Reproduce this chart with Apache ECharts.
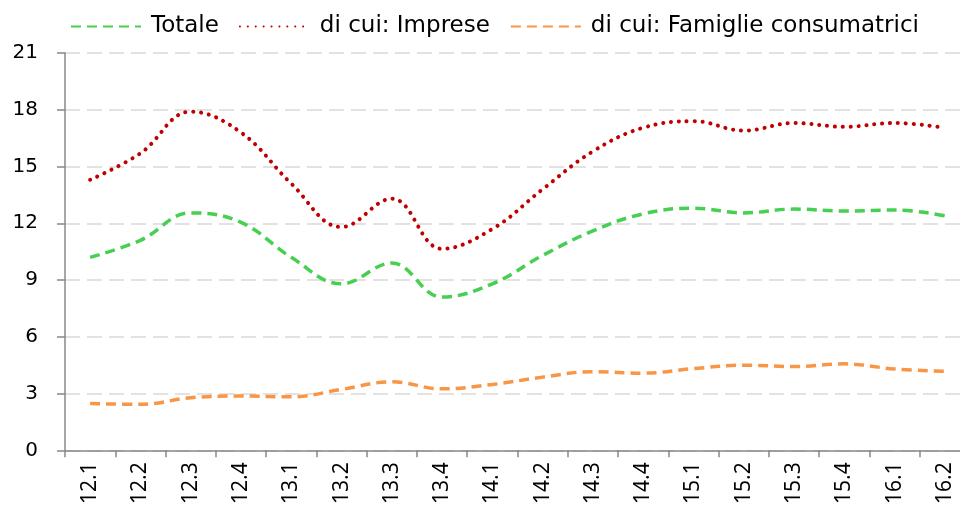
<!DOCTYPE html>
<html>
<head>
<meta charset="utf-8">
<script src="https://cdn.jsdelivr.net/npm/echarts@6/dist/echarts.min.js"></script>
<style>
  html, body { margin: 0; padding: 0; background: #fff; overflow: hidden; }
  #chart { width: 975px; height: 507px; }
</style>
</head>
<body>
<div id="chart"></div>
<script>
// trimestri (anno.trimestre)
var categories = ['12.1', '12.2', '12.3', '12.4', '13.1', '13.2', '13.3', '13.4', '14.1',
  '14.2', '14.3', '14.4', '15.1', '15.2', '15.3', '15.4', '16.1', '16.2']
var totale = [10.2, 11.1, 12.55, 12.05, 10.2, 8.8, 9.9, 8.1, 8.8,
  10.3, 11.6, 12.5, 12.8, 12.55, 12.75, 12.65, 12.7, 12.4]
var imprese = [14.3, 15.7, 17.9, 16.8, 14.1, 11.8, 13.3, 10.65, 11.7,
  13.8, 15.8, 17.05, 17.4, 16.9, 17.3, 17.1, 17.3, 17.05]
var famiglie = [2.47, 2.43, 2.78, 2.87, 2.83, 3.22, 3.62, 3.25, 3.48,
  3.87, 4.16, 4.08, 4.32, 4.5, 4.43, 4.57, 4.3, 4.18]
var yTicks = [0, 3, 6, 9, 12, 15, 18, 21]

var myChart = echarts.init(document.getElementById('chart'))
var font = 'DejaVu Sans, Verdana, sans-serif'

function serie(name, data, color, width, dash, cap) {
  return {
    name: name,
    type: 'line',
    data: data,
    smooth: 0.4,
    showSymbol: false,
    symbol: 'none',
    lineStyle: { color: color, width: width, type: dash, cap: cap },
    itemStyle: { color: color }
  }
}

var option = {
  animation: false,
  legend: {
    left: 65,
    top: 10,
    itemWidth: 70,
    itemHeight: 14,
    itemGap: 20,
    itemStyle: { opacity: 0 },
    textStyle: { fontFamily: font, fontSize: 23, color: '#000', padding: [0, 0, 0, 5] },
    data: ['Totale', 'di cui: Imprese', 'di cui: Famiglie consumatrici']
  },
  grid: { left: 65, right: 5, top: 53, bottom: 54 },
  xAxis: {
    type: 'category',
    data: categories,
    boundaryGap: true,
    axisLine: { lineStyle: { color: '#888', width: 1.5 } },
    axisTick: { show: true, length: 7, lineStyle: { color: '#888', width: 1.5 } },
    axisLabel: {
      rotate: 90,
      margin: 12,
      fontFamily: 'Liberation Sans Narrow, Noto Sans, sans-serif',
      fontSize: 21,
      color: '#000'
    }
  },
  yAxis: {
    type: 'value',
    min: yTicks[0],
    max: yTicks[yTicks.length - 1],
    interval: 3,
    axisLine: { show: true, lineStyle: { color: '#888', width: 1.5 } },
    axisTick: { show: true, length: 8, lineStyle: { color: '#888', width: 1.5 } },
    axisLabel: { margin: 27, fontFamily: font, fontSize: 20, color: '#000' },
    splitLine: { lineStyle: { color: '#d9d9d9', width: 1.5, type: [15, 7] } }
  },
  series: [
    serie('Totale', totale, '#46cf50', 3.5, [10, 6], 'butt'),
    serie('di cui: Imprese', imprese, '#c00000', 4, [0.1, 7.8], 'round'),
    serie('di cui: Famiglie consumatrici', famiglie, '#f79646', 3.5, [10, 6], 'butt')
  ]
}
myChart.setOption(option)
</script>
</body>
</html>
